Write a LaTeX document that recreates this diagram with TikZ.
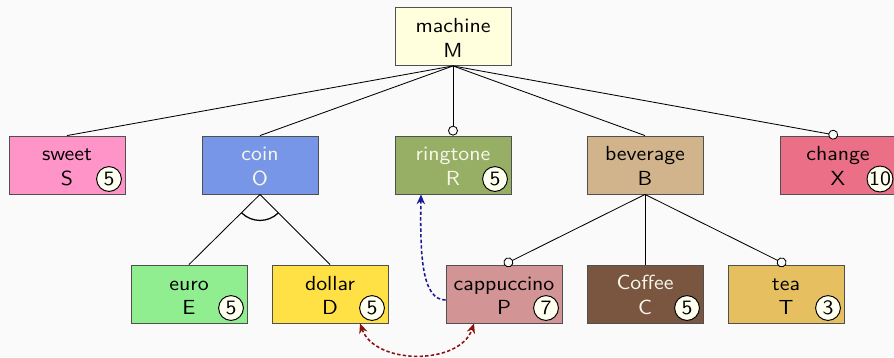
\documentclass[tikz,border=0pt]{standalone}
\usepackage{fontspec}
\setsansfont{lmsans10-regular.otf}[FakeStretch=1.07]
\usetikzlibrary{arrows.meta}
\definecolor{bgc}{HTML}{FAFAFA}
\definecolor{cM}{HTML}{FFFFDD}
\definecolor{cS}{HTML}{FF94C8}
\definecolor{cO}{HTML}{7896E8}
\definecolor{cR}{HTML}{96AF64}
\definecolor{cB}{HTML}{D2B48C}
\definecolor{cX}{HTML}{EB7087}
\definecolor{cE}{HTML}{90EE90}
\definecolor{cD}{HTML}{FFE045}
\definecolor{cP}{HTML}{D29494}
\definecolor{cC}{HTML}{7A5640}
\definecolor{cT}{HTML}{E6C060}
\definecolor{lighttext}{HTML}{F8F8EC}
\definecolor{badgefill}{HTML}{FFFFF0}
\definecolor{bordc}{HTML}{505050}
\definecolor{linkblue}{HTML}{1A1A99}
\definecolor{linkred}{HTML}{8B1010}
\newcommand{\twoline}[2]{\rule{0pt}{12pt}#1\\#2}
\tikzset{
  feat/.style={draw=bordc, line width=0.6pt, minimum width=2.9cm, minimum height=1.45cm,
    align=center, inner sep=0pt, text=black},
  light/.style={text=lighttext},
  badge/.style={circle, draw=black, line width=0.7pt, fill=badgefill, minimum size=0.62cm,
    inner sep=0pt, text=black},
  conn/.style={line width=0.6pt, draw=black},
  opt/.style={conn, -{Circle[open, length=7pt, width=7pt, fill=bgc]}},
  reqlink/.style={line width=1.1pt, dash pattern=on 2.4pt off 1.6pt, draw=linkblue,
    -{Stealth[length=7pt, width=6pt]}},
  exlink/.style={line width=1.1pt, dash pattern=on 2.4pt off 1.6pt, draw=linkred,
    {Stealth[length=7pt, width=6pt]}-{Stealth[length=7pt, width=6pt]}}
}
\begin{document}
\begin{tikzpicture}[x=0.025cm, y=-0.025cm, font=\sffamily\fontsize{14.5}{17.7}\selectfont]
\fill[bgc] (0,0) rectangle (894,357);
\useasboundingbox (0,0) rectangle (894,357);
% feature boxes
\node[feat, fill=cM] (m) at (453,36.5) {\twoline{machine}{M}};
\node[feat, fill=cS] (s) at (67,165) {\twoline{sweet}{S}};
\node[feat, fill=cO, light] (o) at (260,165) {\twoline{coin}{O}};
\node[feat, fill=cR, light] (r) at (453,165) {\twoline{ringtone}{R}};
\node[feat, fill=cB] (b) at (645,165) {\twoline{beverage}{B}};
\node[feat, fill=cX] (x) at (838,165) {\twoline{change}{X}};
\node[feat, fill=cE] (e) at (189,294) {\twoline{euro}{E}};
\node[feat, fill=cD] (d) at (330,294) {\twoline{dollar}{D}};
\node[feat, fill=cP] (p) at (504,294) {\twoline{cappuccino}{P}};
\node[feat, fill=cC, light] (c) at (645,294) {\twoline{Coffee}{C}};
\node[feat, fill=cT] (t) at (786,294) {\twoline{tea}{T}};
% badges
\node[badge] (sb) at ([shift={(42,14)}]s.center) {5};
\node[badge] (rb) at ([shift={(42,14)}]r.center) {5};
\node[badge] (xb) at ([shift={(42,14)}]x.center) {10};
\node[badge] (eb) at ([shift={(42,14)}]e.center) {5};
\node[badge] (db) at ([shift={(42,14)}]d.center) {5};
\node[badge] (pb) at ([shift={(42,14)}]p.center) {7};
\node[badge] (cb) at ([shift={(42,14)}]c.center) {5};
\node[badge] (tb) at ([shift={(42,14)}]t.center) {3};
% tree connectors
\draw[conn] (m.south) -- (s.north);
\draw[conn] (m.south) -- (o.north);
\draw[opt] (m.south) -- (r.north);
\draw[conn] (m.south) -- (b.north);
\draw[opt] (m.south) -- (x.north);
\draw[conn] (o.south) -- (e.north);
\draw[conn] (o.south) -- (d.north);
\draw[conn, line width=0.9pt] ([shift={(-135:0.65cm)}]o.south) arc[start angle=-135, end angle=-45, radius=0.65cm];
\draw[opt] (b.south) -- (p.north);
\draw[conn] (b.south) -- (c.north);
\draw[opt] (b.south) -- (t.north);
% cross-tree constraints
\coordinate (pw) at ([yshift=-0.15cm]p.west);
\coordinate (rs) at ([xshift=-0.8cm]r.south);
\draw[reqlink] (pw) .. controls +(-24,0) and +(-1,60) .. (rs);
\coordinate (ds) at ([xshift=0.75cm]d.south);
\coordinate (ps) at ([xshift=-0.75cm]p.south);
\draw[exlink] (ds) .. controls +(15,42) and +(-14,42) .. (ps);
\end{tikzpicture}
\end{document}
